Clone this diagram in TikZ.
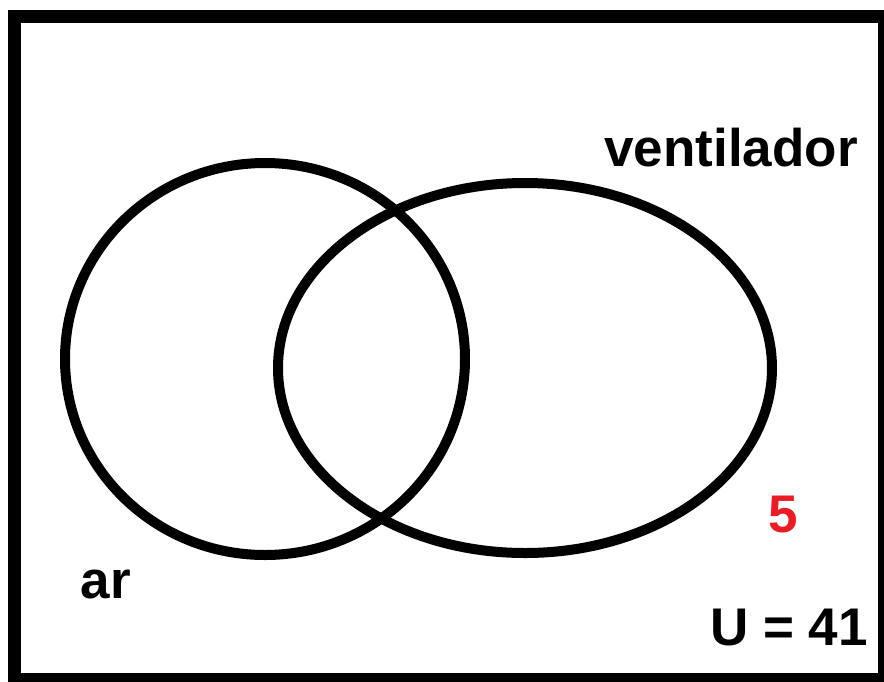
\documentclass[tikz,border=0pt]{standalone}
\usepackage{fontspec}
\setmainfont{Liberation Sans}
\begin{document}
\begin{tikzpicture}[x=1pt,y=-1pt,
  lbl/.style={font=\fontsize{53}{60}\selectfont\bfseries, inner sep=0pt, anchor=base},
  setline/.style={line width=10pt, draw=black}]
\useasboundingbox (0,0) rectangle (884,681);
\fill[white] (0,0) rectangle (884,681);
\begin{scope}
\clip (0,0) rectangle (884,681);
\draw[line width=13pt] (14.5,16.5) rectangle (884.5,679.5);
\end{scope}
\draw[setline] (265,359) ellipse [x radius=200, y radius=196];
\draw[setline] (525,368) ellipse [x radius=247, y radius=185];
\node[lbl] (ven) at (731,166) {ventilador};
\node[lbl] (ar) at (106,598) {ar};
\node[lbl, text={rgb,255:red,237;green,28;blue,36}] (five) at (783,532) {5};
\node[lbl] (u) at (789,645) {U = 41};
\end{tikzpicture}
\end{document}
